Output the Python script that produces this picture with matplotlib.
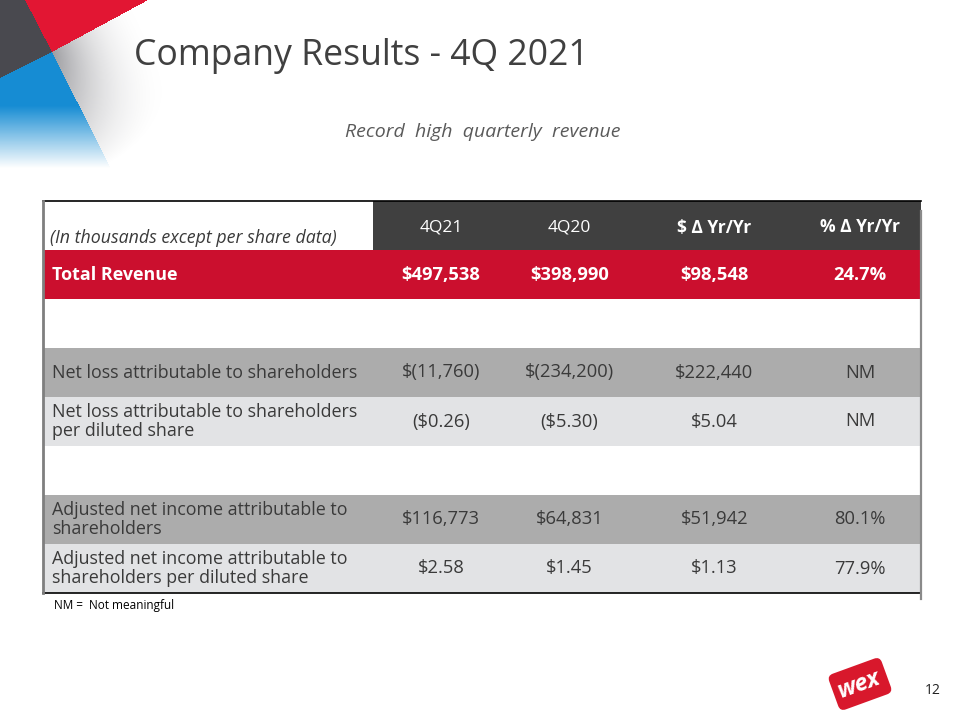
import matplotlib
matplotlib.use("Agg")
import matplotlib.pyplot as plt
import numpy as np
from matplotlib.patches import Rectangle, FancyBboxPatch
from matplotlib.transforms import Affine2D

# ---- table content ----
col_labels = ["4Q21", "4Q20", "$ Δ Yr/Yr", "% Δ Yr/Yr"]
col_bold = [False, False, True, True]
row_labels = [
    "Total Revenue",
    "",
    "Net loss attributable to shareholders",
    "Net loss attributable to shareholders\nper diluted share",
    "",
    "Adjusted net income attributable to\nshareholders",
    "Adjusted net income attributable to\nshareholders per diluted share",
]
q4_21 = ["$497,538", "", "$(11,760)", "($0.26)", "", "$116,773", "$2.58"]
q4_20 = ["$398,990", "", "$(234,200)", "($5.30)", "", "$64,831", "$1.45"]
dollar_chg = ["$98,548", "", "$222,440", "$5.04", "", "$51,942", "$1.13"]
pct_chg = ["24.7%", "", "NM", "NM", "", "80.1%", "77.9%"]
row_kind = ["red", "blank", "dark", "light", "blank", "dark", "light"]

FONT = "Open Sans"
TXT = "#3a3a3a"
FILL = {"red": "#cb0f2e", "blank": "white", "dark": "#acacac", "light": "#e2e3e5"}

fig = plt.figure(figsize=(9.6, 7.2), dpi=100)
ax = fig.add_axes([0, 0, 1, 1])

# ---- corner decoration (pixel shading) ----
H, W = 180, 330
yy, xx = np.mgrid[0:H, 0:W] + 0.5
cx, cy = 52.0, 52.0
ang = np.degrees(np.arctan2(yy - cy, xx - cx))
img = np.zeros((H, W, 4))
red = (ang > -117.4) & (ang <= -28.4)
gray = (ang > -28.4) & (ang <= 63.2)
blue = (ang > 63.2) & (ang <= 153.4)
dark = ~(red | gray | blue)
img[dark] = [0.29, 0.29, 0.31, 1.0]
img[red] = [0.89, 0.09, 0.20, 1.0]
a_blue = np.clip((168 - yy) / 62.0, 0, 1)
img[blue, :3] = [0.09, 0.55, 0.83]
img[blue, 3] = a_blue[blue]
# gray shadow: darkest along the blue/gray boundary, fading right and down
ux, uy = 48 / np.hypot(48, 95), 95 / np.hypot(48, 95)
d_line = np.abs((xx - cx) * uy - (yy - cy) * ux)
dist = np.hypot(xx - cx, yy - cy)
a_gray = np.clip(1 - d_line / 95.0, 0, 1) ** 1.4 * np.clip(1 - dist / 125.0, 0, 1) * 0.8
img[gray, :3] = [0.52, 0.52, 0.54]
img[gray, 3] = a_gray[gray]
ax.imshow(img, extent=[0, W, H, 0], interpolation="bilinear", zorder=0)
ax.set_xlim(0, 960)
ax.set_ylim(720, 0)
ax.axis("off")

# ---- titles ----
ax.text(134, 56, "Company Results - 4Q 2021", fontsize=25.7, color="#404040",
        family=FONT, va="center", ha="left")
ax.text(483, 132, "Record  high  quarterly  revenue", fontsize=14, color="#5a5a5a",
        family=FONT, style="italic", va="center", ha="center")

# ---- table ----
col_edges = [43, 373, 505, 630, 795, 921]
top, rh = 201, 49

# header
for j in range(4):
    ax.add_patch(Rectangle((col_edges[j + 1], top), col_edges[j + 2] - col_edges[j + 1], rh,
                           facecolor="#404040", edgecolor="none", zorder=1))
    ax.text((col_edges[j + 1] + col_edges[j + 2]) / 2 + 2, top + rh / 2 + 2, col_labels[j],
            fontsize=12.5, color="white", family=FONT, ha="center", va="center",
            fontweight="bold" if col_bold[j] else "normal", zorder=3)
ax.text(50, top + 37, "(In thousands except per share data)", fontsize=12.8, color=TXT,
        family=FONT, style="italic", ha="left", va="center", zorder=3)

cols = [q4_21, q4_20, dollar_chg, pct_chg]
for i, kind in enumerate(row_kind):
    y0 = top + rh * (i + 1)
    ax.add_patch(Rectangle((col_edges[0], y0), col_edges[-1] - col_edges[0], rh,
                           facecolor=FILL[kind], edgecolor="none", zorder=1))
    is_red = kind == "red"
    color = "white" if is_red else TXT
    weight = "bold" if is_red else "normal"
    ax.text(52, y0 + rh / 2, row_labels[i], fontsize=12.9, color=color, family=FONT,
            fontweight=weight, ha="left", va="center", linespacing=1.05, zorder=3)
    for j in range(4):
        ax.text((col_edges[j + 1] + col_edges[j + 2]) / 2 + 2, y0 + rh / 2, cols[j][i],
                fontsize=13.2, color=color, family=FONT, fontweight=weight,
                ha="center", va="center", zorder=3)

bottom = top + rh * (len(row_kind) + 1)
ax.plot([col_edges[0], col_edges[-1]], [top, top], color="black", lw=1.2, zorder=4)
ax.plot([col_edges[0], col_edges[-1]], [bottom, bottom], color="black", lw=1.2, zorder=4)
ax.plot([col_edges[0], col_edges[0]], [top, bottom], color="#7f7f7f", lw=2, zorder=4)
ax.plot([col_edges[-1], col_edges[-1]], [top + 10, bottom + 6], color="#8a8a8a", lw=1.6, zorder=4)

ax.text(54, bottom + 13, "NM =  Not meaningful", fontsize=8.5, color="black", family=FONT,
        ha="left", va="center")

# ---- logo and page number ----
lx, ly = 860, 684
badge = FancyBboxPatch((lx - 28, ly - 19), 56, 38, boxstyle="round,pad=0,rounding_size=6",
                       facecolor="#d8182c", edgecolor="none", zorder=5)
badge.set_transform(Affine2D().rotate_deg_around(lx, ly, -20) + ax.transData)
ax.add_patch(badge)
ax.text(lx - 1, ly + 1, "wex", fontsize=17, color="white", family=FONT, fontweight="bold",
        style="italic", rotation=20, ha="center", va="center", zorder=6)
ax.text(933, 690, "12", fontsize=10, color="#222222", family=FONT, ha="center", va="center")

fig.savefig("out.png", dpi=100, facecolor="white")
